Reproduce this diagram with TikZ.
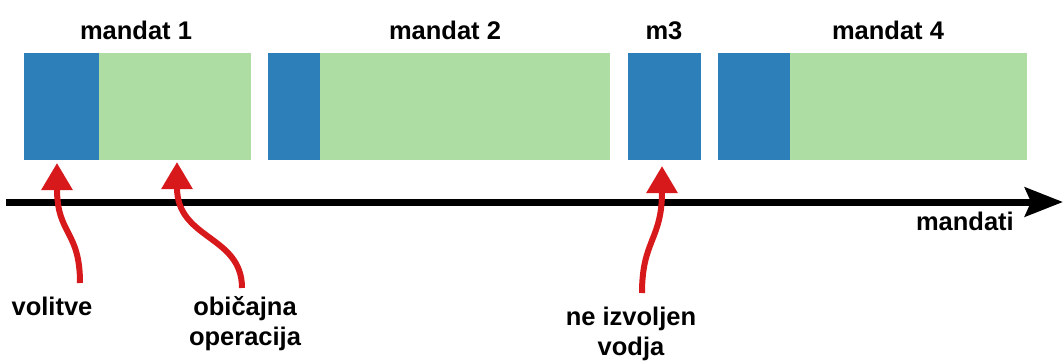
\documentclass[tikz,border=0pt]{standalone}
\usepackage{fontspec}
\setmainfont{Liberation Sans}
\usetikzlibrary{arrows.meta}
\definecolor{elect}{RGB}{44,127,184}
\definecolor{regular}{RGB}{173,221,163}
\definecolor{pointer}{RGB}{215,25,28}
\tikzset{
  blk/.style={rectangle, inner sep=0pt, outer sep=0pt, anchor=north west, minimum height=107pt},
  elblk/.style={blk, fill=elect},
  opblk/.style={blk, fill=regular},
  lbl/.style={font=\bfseries\fontsize{25.5}{30}\selectfont, inner sep=0pt, anchor=base, align=center},
  pointerarrow/.style={pointer, line width=6pt, -{Triangle[length=27pt,width=30pt]}},
  timeline/.style={black, line width=7pt, -{Stealth[length=38pt,width=29pt,inset=6pt]}}
}
\begin{document}
\begin{tikzpicture}[x=1pt,y=-1pt]
\useasboundingbox (0,0) rectangle (1063,360);
% term blocks: election phase (blue) followed by regular operation (green)
\node[elblk, minimum width=75pt]  (e1) at (24,53) {};
\node[opblk, minimum width=152pt] (o1) at (99,53) {};
\node[elblk, minimum width=52pt]  (e2) at (268,53) {};
\node[opblk, minimum width=290pt] (o2) at (320,53) {};
\node[elblk, minimum width=73pt]  (e3) at (628,53) {};
\node[elblk, minimum width=72pt]  (e4) at (718,53) {};
\node[opblk, minimum width=237pt] (o4) at (790,53) {};
% term titles
\node[lbl] (t1) at (136,39) {mandat 1};
\node[lbl] (t2) at (445,39) {mandat 2};
\node[lbl] (t3) at (664,39) {m3};
\node[lbl] (t4) at (888,39) {mandat 4};
% time axis
\coordinate (axL) at (6,202);
\coordinate (axR) at (1063,202);
\draw[timeline] (axL) -- (axR);
\node[lbl, anchor=base east] (axlbl) at (1014,230) {mandati};
% annotations (base anchor sits on the last line)
\node[lbl] (a1) at (52,315) {volitve};
\node[lbl] (a2) at (245,345) {običajna\\operacija};
\node[lbl] (a3) at (631,355) {ne izvoljen\\vodja};
\coordinate (s1) at (80,283);
\coordinate (s2) at (242,288);
\coordinate (s3) at (642,293);
\draw[pointerarrow] (s1) .. controls (80,230) and (57,235) .. ([shift={(33,3)}]e1.south west);
\draw[pointerarrow] (s2) .. controls (242,235) and (177,240) .. ([shift={(78,2)}]o1.south west);
\draw[pointerarrow] (s3) .. controls (642,240) and (662,240) .. ([shift={(34,6)}]e3.south west);
\end{tikzpicture}
\end{document}
